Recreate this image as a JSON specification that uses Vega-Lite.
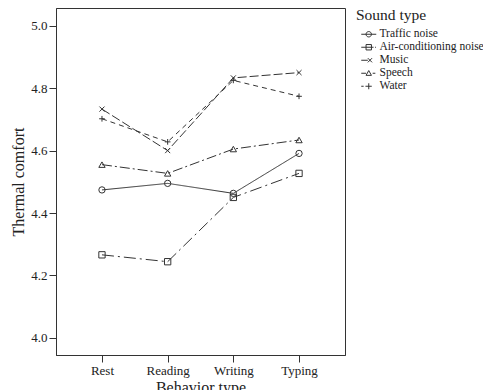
{
  "$schema": "https://vega.github.io/schema/vega-lite/v6.json",
  "width": 289,
  "height": 347,
  "autosize": {"type": "pad"},
  "padding": {"left": 10, "top": 8, "right": 0, "bottom": 0},
  "config": {
    "font": "Liberation Serif",
    "view": {"stroke": "#333", "strokeWidth": 1},
    "axis": {
      "grid": false,
      "domainColor": "#333",
      "tickColor": "#333",
      "labelColor": "#222",
      "titleColor": "#222",
      "labelFont": "Liberation Serif",
      "titleFont": "Liberation Serif",
      "labelFontSize": 13,
      "titleFontSize": 16,
      "titleFontWeight": "normal",
      "tickSize": 7,
      "labelPadding": 2
    }
  },
  "data": {
    "values": [
      {"behavior": "Rest", "sound": "Traffic noise", "value": 4.474},
      {"behavior": "Reading", "sound": "Traffic noise", "value": 4.495},
      {"behavior": "Writing", "sound": "Traffic noise", "value": 4.463},
      {"behavior": "Typing", "sound": "Traffic noise", "value": 4.591},
      {"behavior": "Rest", "sound": "Air-conditioning noise", "value": 4.266},
      {"behavior": "Reading", "sound": "Air-conditioning noise", "value": 4.244},
      {"behavior": "Writing", "sound": "Air-conditioning noise", "value": 4.45},
      {"behavior": "Typing", "sound": "Air-conditioning noise", "value": 4.527},
      {"behavior": "Rest", "sound": "Music", "value": 4.733},
      {"behavior": "Reading", "sound": "Music", "value": 4.6},
      {"behavior": "Writing", "sound": "Music", "value": 4.833},
      {"behavior": "Typing", "sound": "Music", "value": 4.85},
      {"behavior": "Rest", "sound": "Speech", "value": 4.555},
      {"behavior": "Reading", "sound": "Speech", "value": 4.527},
      {"behavior": "Writing", "sound": "Speech", "value": 4.605},
      {"behavior": "Typing", "sound": "Speech", "value": 4.634},
      {"behavior": "Rest", "sound": "Water", "value": 4.702},
      {"behavior": "Reading", "sound": "Water", "value": 4.628},
      {"behavior": "Writing", "sound": "Water", "value": 4.825},
      {"behavior": "Typing", "sound": "Water", "value": 4.774}
    ]
  },
  "encoding": {
    "x": {
      "field": "behavior",
      "type": "nominal",
      "sort": ["Rest", "Reading", "Writing", "Typing"],
      "scale": {"type": "point", "padding": 0.7},
      "axis": {"title": "Behavior type", "labelAngle": 0, "titlePadding": 2}
    },
    "y": {
      "field": "value",
      "type": "quantitative",
      "scale": {"domain": [3.945, 5.057], "nice": false, "zero": false},
      "axis": {"values": [4.0, 4.2, 4.4, 4.6, 4.8, 5.0], "format": ".1f", "title": "Thermal comfort", "titlePadding": 4}
    }
  },
  "layer": [
    {
      "mark": {"type": "line", "stroke": "#333", "strokeWidth": 1},
      "encoding": {
        "strokeDash": {
          "field": "sound",
          "type": "nominal",
          "scale": {
            "domain": ["Traffic noise", "Air-conditioning noise", "Music", "Speech", "Water"],
            "range": [[1, 0], [12, 4, 2, 4], [9, 3], [10, 3, 2, 3], [5, 4]]
          },
          "legend": null
        }
      }
    },
    {
      "mark": {"type": "point", "filled": false, "stroke": "#333", "strokeWidth": 1, "size": 40, "opacity": 1},
      "encoding": {
        "shape": {
          "field": "sound",
          "type": "nominal",
          "scale": {
            "domain": ["Traffic noise", "Air-conditioning noise", "Music", "Speech", "Water"],
            "range": ["circle", "square", "M-0.8,-0.8L0.8,0.8M-0.8,0.8L0.8,-0.8", "triangle-up", "M-0.9,0L0.9,0M0,-0.9L0,0.9"]
          },
          "legend": null
        }
      }
    },
    {
      "mark": {"type": "point", "filled": false, "stroke": "#333", "strokeWidth": 1, "size": 36, "opacity": 0},
      "encoding": {
        "shape": {
          "field": "sound",
          "type": "nominal",
          "scale": {
            "domain": ["Traffic noise", "Air-conditioning noise", "Music", "Speech", "Water"],
            "range": [
              "M-2.5,0L2.5,0M0.9,0A0.9,0.9,0,1,1,-0.9,0A0.9,0.9,0,1,1,0.9,0",
              "M-2.5,0L-0.9,0M-0.9,-0.9L0.9,-0.9L0.9,0.9L-0.9,0.9ZM-0.9,0L0.9,0M0.9,0L1.6,0M2.1,0L2.4,0",
              "M-2.5,0L-0.3,0M-0.3,-0.7L1.1,0.7M-0.3,0.7L1.1,-0.7",
              "M-2.5,0L-0.9,0M0,-0.9L0.9,0.7L-0.9,0.7ZM1.3,0L2.2,0",
              "M-2.5,0L-1.7,0M-1.1,0L1,0M0,-1L0,1"
            ]
          },
          "legend": {
            "title": "Sound type",
            "titleFont": "Liberation Serif",
            "titleFontSize": 15.5,
            "titleFontWeight": "normal",
            "titleColor": "#222",
            "titlePadding": 5,
            "labelFont": "Liberation Serif",
            "labelFontSize": 11.5,
            "labelColor": "#222",
            "symbolSize": 36,
            "symbolStrokeColor": "#333",
            "symbolStrokeWidth": 1,
            "symbolFillColor": "transparent",
            "symbolOpacity": 1,
            "symbolOffset": 7,
            "labelOffset": 5,
            "rowPadding": 0,
            "offset": 11,
            "padding": 0
          }
        }
      }
    }
  ],
  "resolve": {"scale": {"shape": "independent"}}
}
